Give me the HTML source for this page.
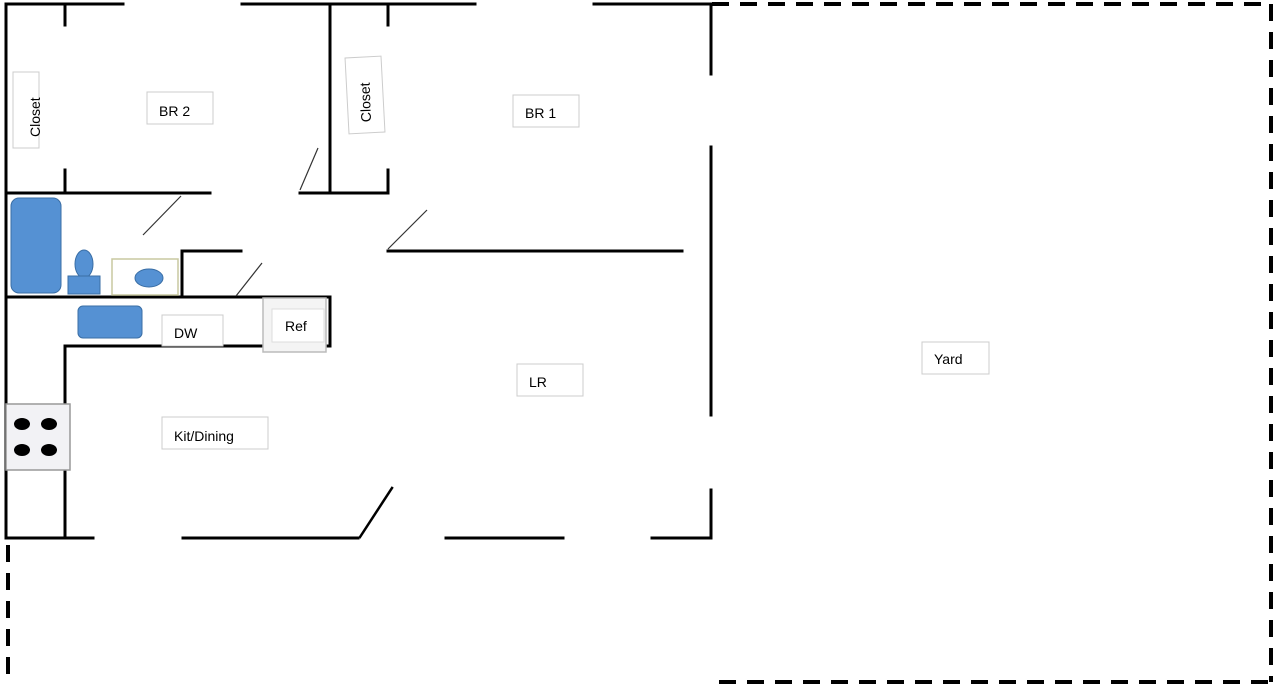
<!DOCTYPE html>
<html><head><meta charset="utf-8"><style>
html,body{margin:0;padding:0;background:#fff}
svg{display:block}
text{font-family:"Liberation Sans",sans-serif;font-size:14px;fill:#000}
</style></head><body>
<svg width="1280" height="686" viewBox="0 0 1280 686" xmlns="http://www.w3.org/2000/svg">
<g stroke="#000" stroke-width="3" fill="none" stroke-linecap="square">
<line x1="6" y1="4" x2="123" y2="4"/>
<line x1="242" y1="4" x2="475" y2="4"/>
<line x1="594" y1="4" x2="712" y2="4"/>
<line x1="6" y1="4" x2="6" y2="538"/>
<line x1="65" y1="4" x2="65" y2="25"/>
<line x1="65" y1="170" x2="65" y2="193"/>
<line x1="6" y1="193" x2="210" y2="193"/>
<line x1="330" y1="4" x2="330" y2="193"/>
<line x1="300" y1="193" x2="388" y2="193"/>
<line x1="388" y1="4" x2="388" y2="25"/>
<line x1="388" y1="170" x2="388" y2="193"/>
<line x1="711" y1="4" x2="711" y2="74"/>
<line x1="711" y1="147" x2="711" y2="415"/>
<line x1="711" y1="490" x2="711" y2="538"/>
<line x1="388" y1="251" x2="682" y2="251"/>
<line x1="6" y1="297" x2="330" y2="297"/>
<line x1="182" y1="251" x2="182" y2="297"/>
<line x1="182" y1="251" x2="241" y2="251"/>
<line x1="65" y1="346" x2="330" y2="346"/>
<line x1="65" y1="346" x2="65" y2="538"/>
<line x1="330" y1="297" x2="330" y2="346"/>
<line x1="6" y1="538" x2="93" y2="538"/>
<line x1="183" y1="538" x2="358" y2="538"/>
<line x1="446" y1="538" x2="563" y2="538"/>
<line x1="652" y1="538" x2="711" y2="538"/>
<line x1="360" y1="537" x2="392" y2="488" stroke-width="2.5"/>
</g>
<g stroke="#333" stroke-width="1.2">
<line x1="143" y1="235" x2="181" y2="196"/>
<line x1="300" y1="190" x2="318" y2="148"/>
<line x1="388" y1="249" x2="427" y2="210"/>
<line x1="236" y1="296" x2="262" y2="263"/>
</g>
<g stroke="#000" stroke-width="4" fill="none" stroke-dasharray="17 11">
<line x1="712" y1="4" x2="1268" y2="4"/>
<line x1="1271" y1="4" x2="1271" y2="682"/>
<line x1="1268" y1="682" x2="717" y2="682"/>
<line x1="8" y1="545" x2="8" y2="682"/>
</g>
<g fill="#5591d3" stroke="#3a6ea5" stroke-width="1">
<rect x="11" y="198" width="50" height="95" rx="8"/>
<ellipse cx="84" cy="264" rx="9" ry="14"/>
<rect x="68" y="276" width="32" height="18"/>
<ellipse cx="149" cy="278" rx="14" ry="9"/>
<rect x="78" y="306" width="64" height="32" rx="5"/>
</g>
<rect x="112" y="259" width="66" height="36" fill="none" stroke="#c8c8a0" stroke-width="1.5"/>
<rect x="263" y="298" width="63" height="54" fill="#f4f4f4" stroke="#bbb" stroke-width="1.5"/>
<rect x="272" y="309" width="52" height="33" fill="#fff" stroke="#ddd"/>
<rect x="6" y="404" width="64" height="66" fill="#f2f2f5" stroke="#999" stroke-width="1.5"/>
<g fill="#000"><ellipse cx="22" cy="424" rx="8" ry="6"/><ellipse cx="49" cy="424" rx="8" ry="6"/><ellipse cx="22" cy="450" rx="8" ry="6"/><ellipse cx="49" cy="450" rx="8" ry="6"/></g>
<g fill="#fff" stroke="#ccc" stroke-width="1">
<rect x="147" y="92" width="66" height="32"/>
<rect x="513" y="95" width="66" height="32"/>
<rect x="13" y="72" width="26" height="76"/>
<rect x="347" y="57" width="36" height="76" transform="rotate(-3 365 95)"/>
<rect x="162" y="315" width="61" height="31"/>
<rect x="162" y="417" width="106" height="32"/>
<rect x="517" y="364" width="66" height="32"/>
<rect x="922" y="342" width="67" height="32"/>
</g>
<text x="159" y="116">BR 2</text>
<text x="525" y="118">BR 1</text>
<text x="174" y="338">DW</text>
<text x="285" y="331">Ref</text>
<text x="174" y="441">Kit/Dining</text>
<text x="529" y="387">LR</text>
<text x="934" y="364">Yard</text>
<text transform="translate(40 137) rotate(-90)">Closet</text>
<text transform="translate(371 122) rotate(-92)">Closet</text>
</svg>
</body></html>
